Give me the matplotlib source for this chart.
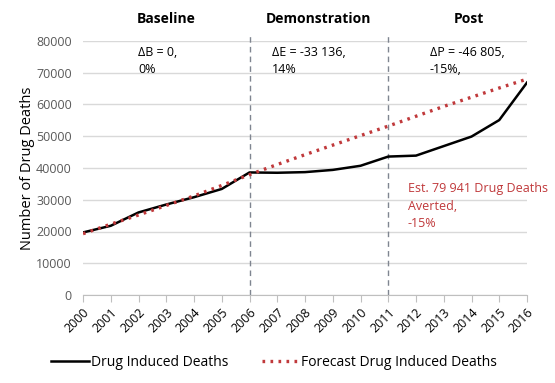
import matplotlib
matplotlib.use("Agg")
import matplotlib.pyplot as plt

years = list(range(2000, 2017))
actual = [19700, 21800, 26000, 28500, 30800, 33400, 38600, 38500, 38700, 39400, 40700,
          43600, 43900, 46900, 49900, 55100, 66900]
forecast = [19300, 22300, 25200, 28200, 31200, 34500, 37900, 41100, 44200, 47200, 50200,
            53200, 56300, 59400, 62300, 65200, 68000]
phase_breaks = [2006, 2011]
phase_titles = ["Baseline", "Demonstration", "Post"]
phase_title_x = [2003.0, 2008.5, 2013.9]
deltas = ["ΔB = 0,\n0%", "ΔE = -33 136,\n14%", "ΔP = -46 805,\n-15%,"]
delta_x = [2002.0, 2006.8, 2012.5]
averted_text = "Est. 79 941 Drug Deaths\nAverted,\n-15%"

plt.rcParams['font.family'] = ['Open Sans', 'DejaVu Sans']

fig = plt.figure(figsize=(5.55, 3.83), dpi=100)
ax = fig.add_axes([83/555, 1-295/383, 444/555, 254/383])

red = '#C0393B'
ax.plot(years, actual, color='black', lw=1.8, label='Drug Induced Deaths', zorder=3)
ax.plot(years, forecast, color=red, lw=2.4, linestyle=(0, (0.8, 1.6)),
        label='Forecast Drug Induced Deaths', zorder=4)

ax.set_xlim(2000, 2016)
ax.set_ylim(0, 80000)
ax.set_yticks(range(0, 80001, 10000))
ax.set_xticks(years)
ax.set_xticklabels([str(y) for y in years], rotation=45, ha='right', rotation_mode='anchor',
                   fontsize=9)
ax.tick_params(axis='y', length=0, labelsize=9, labelcolor='#595959', pad=8)
ax.tick_params(axis='x', length=5, color='#bfbfbf', labelcolor='black', pad=3, direction='out')
ax.grid(axis='y', color='#d9d9d9', lw=1)
ax.set_axisbelow(True)
for s in ['top', 'right', 'left']:
    ax.spines[s].set_visible(False)
ax.spines['bottom'].set_color('#bfbfbf')
ax.set_ylabel('Number of Drug Deaths', fontsize=10.5, labelpad=1)

for b in phase_breaks:
    ax.plot([b, b], [0, 82500], color='#7f8590', lw=1, linestyle=(0, (4, 3)),
            clip_on=False, zorder=2)

for t, x in zip(phase_titles, phase_title_x):
    ax.text(x, 87000, t, ha='center', va='center', fontsize=10, fontweight='bold')
for t, x in zip(deltas, delta_x):
    ax.text(x, 78500, t, ha='left', va='top', fontsize=9, linespacing=1.45)
ax.text(2011.7, 35500, averted_text, ha='left', va='top', fontsize=9, color=red,
        linespacing=1.45)

fig.legend(loc='center', bbox_to_anchor=(0.494, 1-362/383), ncol=2, frameon=False,
           fontsize=10, handlelength=2.7, handletextpad=0.15, columnspacing=2.4)

fig.savefig('out.png', dpi=100)
